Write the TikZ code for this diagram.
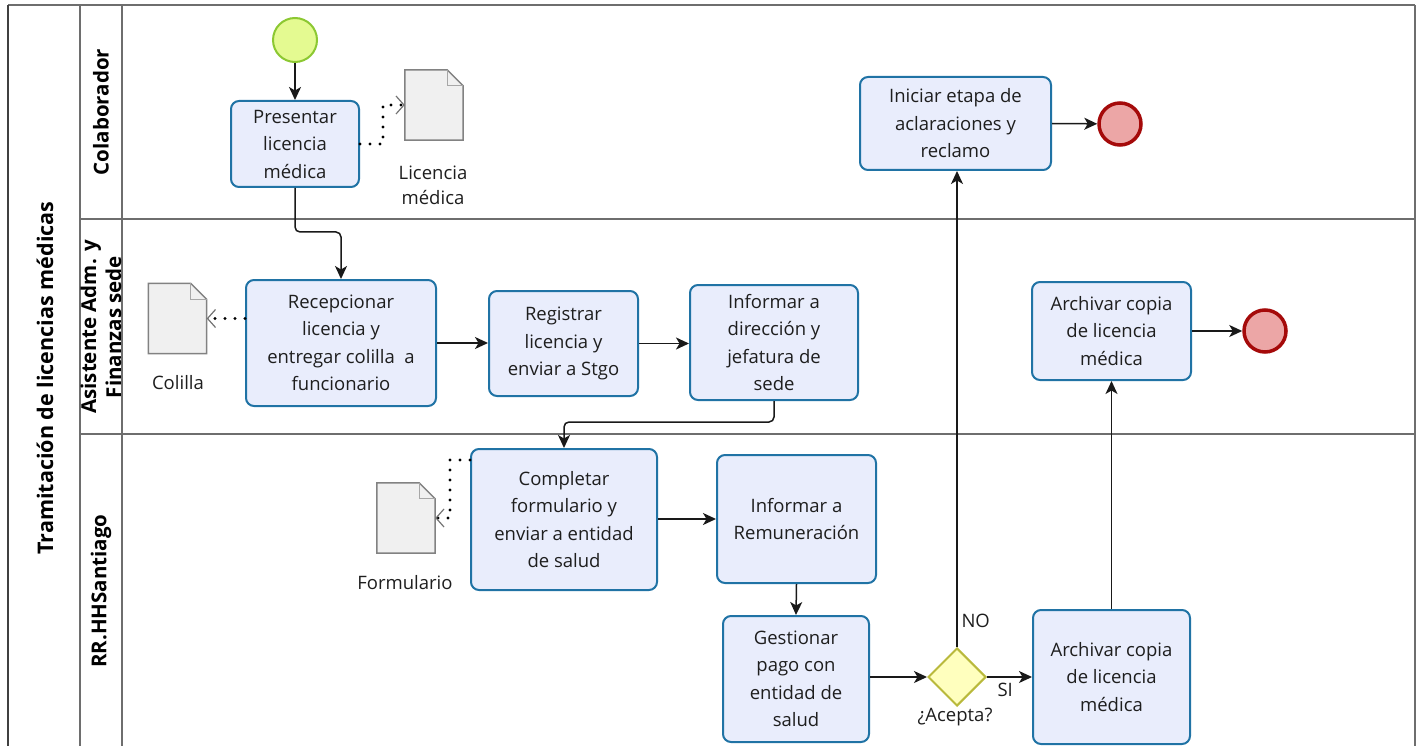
\documentclass[tikz,border=0pt]{standalone}
\usepackage{fontspec}
\setmainfont{Open Sans}
\usetikzlibrary{arrows.meta,shapes.geometric,calc}
\definecolor{taskfill}{RGB}{233,237,252}
\definecolor{taskline}{RGB}{32,115,165}
\definecolor{startfill}{RGB}{228,250,145}
\definecolor{startline}{RGB}{140,200,50}
\definecolor{endfill}{RGB}{236,166,166}
\definecolor{endline}{RGB}{165,10,10}
\definecolor{gwfill}{RGB}{255,255,190}
\definecolor{gwline}{RGB}{185,185,60}
\definecolor{docfill}{RGB}{240,240,240}
\definecolor{docline}{RGB}{130,130,130}
\definecolor{lanegray}{RGB}{110,110,110}
\definecolor{txt}{RGB}{30,30,30}
\begin{document}
\begin{tikzpicture}[x=1pt,y=-1pt,
  lanel/.style={draw=lanegray,line width=1.3pt},
  poolline/.style={draw=black!75,line width=2pt},
  pooltext/.style={font=\fontsize{21.5}{24}\selectfont\bfseries,text=black,rotate=90,align=center},
  lanetext/.style={font=\fontsize{20.5}{25}\selectfont\bfseries,text=black,rotate=90,align=center},
  task/.style={draw=taskline,fill=taskfill,line width=2pt,rounded corners=8pt,align=center,
    font=\fontsize{18.5}{27.5}\selectfont,text=txt,inner sep=2pt},
  startev/.style={circle,draw=startline,fill=startfill,line width=2pt,minimum size=44pt,inner sep=0pt},
  endev/.style={circle,draw=endline,fill=endfill,line width=3.5pt,minimum size=42pt,inner sep=0pt},
  gateway/.style={diamond,draw=gwline,fill=gwfill,line width=2pt,minimum width=58pt,minimum height=58pt,inner sep=0pt},
  docbox/.style={minimum width=58pt,minimum height=70pt,inner sep=0pt},
  docst/.style={draw=docline,fill=docfill,line width=1.5pt,line join=miter},
  lbl/.style={font=\fontsize{18.5}{25}\selectfont,text=txt,align=center},
  flow/.style={draw=black!90,line width=1.5pt,-{Stealth[length=13pt,width=12pt,inset=3.5pt]}},
  assoc/.style={draw=black,line width=3.2pt,line cap=round,dash pattern=on 0pt off 10pt,
    -{Straight Barb[length=8pt,width=18pt,line width=1.2pt,color=black!55]}}
]
\useasboundingbox (0,0) rectangle (1416,746);
% pool and lanes
\draw[lanel] (8,5) -- (1415,5);
\draw[lanel] (1415,5) -- (1415,746);
\draw[lanel] (80,5) -- (80,746);
\draw[lanel] (122,5) -- (122,746);
\draw[lanel] (80,219) -- (1415,219);
\draw[lanel] (80,434) -- (1415,434);
\draw[poolline] (8,5) -- (8,746);
\node[pooltext] (pool) at (45,378) {Tramitación de licencias médicas};
\node[lanetext] (lane1) at (101,112) {Colaborador};
\node[lanetext] (lane2) at (101,327) {Asistente Adm. y\\Finanzas sede};
\node[lanetext] (lane3) at (101,591) {RR.HHSantiago};

% events, gateway
\node[startev] (start) at (295,40) {};
\node[endev] (end1) at (1120,124) {};
\node[endev] (end2) at (1265,331) {};
\node[gateway] (gw) at (957,677) {};
\node[lbl,anchor=center] (gwl) at (955,717) {¿Acepta?};

% tasks
\node[task,minimum width=128pt,minimum height=86pt] (p1) at (295,144) {Presentar\\licencia\\médica};
\node[task,minimum width=190pt,minimum height=126pt] (p2) at (341,343) {Recepcionar\\licencia y\\entregar colilla\ \ a\\funcionario};
\node[task,minimum width=149pt,minimum height=105pt] (p3) at (563.5,343.5) {Registrar\\licencia y\\enviar a Stgo};
\node[task,minimum width=168pt,minimum height=115pt] (p4) at (774,342.5) {Informar a\\dirección y\\jefatura de\\sede};
\node[task,minimum width=186pt,minimum height=141pt] (p5) at (564,519.5) {Completar\\formulario y\\enviar a entidad\\de salud};
\node[task,minimum width=159pt,minimum height=128pt] (p6) at (796.5,519) {Informar a\\Remuneración};
\node[task,minimum width=146pt,minimum height=126pt] (p7) at (796,679) {Gestionar\\pago con\\entidad de\\salud};
\node[task,minimum width=157pt,minimum height=134pt] (p8) at (1111.5,677) {Archivar copia\\de licencia\\médica};
\node[task,minimum width=159pt,minimum height=98pt] (p9) at (1111.5,331) {Archivar copia\\de licencia\\médica};
\node[task,minimum width=191pt,minimum height=93pt] (p10) at (955.5,123.5) {Iniciar etapa de\\aclaraciones y\\reclamo};

% data objects
\foreach \d/\cx/\cy in {doc1/434/105, doc2/177.5/318.5, doc3/406/518}{
  \node[docbox] (\d) at (\cx,\cy) {};
  \draw[docst] (\d.north west) -- ([xshift=-16pt]\d.north east) -- ([yshift=-16pt]\d.north east)
     -- (\d.south east) -- (\d.south west) -- cycle;
  \draw[draw=docline!70,line width=1pt] ([xshift=-16pt]\d.north east) |- ([yshift=-16pt]\d.north east);
}
\node[lbl] (doc1l) at (433,185) {Licencia\\médica};
\node[lbl] (doc2l) at (178,383) {Colilla};
\node[lbl] (doc3l) at (405,583) {Formulario};

% sequence flows
\draw[flow] (start) -- (p1);
\coordinate (c1) at (318,232);
\draw[flow,rounded corners=5pt] (p1.south) |- (c1) -| (p2.north);
\draw[flow] (p2.east) -- (p3.west |- p2.east);
\draw[flow] (p3.east) -- (p4.west |- p3.east);
\coordinate (c2) at (670,422);
\draw[flow,rounded corners=5pt] (p4.south) |- (c2) -| (p5.north);
\draw[flow] (p5.east |- p6.west) -- (p6.west);
\draw[flow] (p6.south) -- (p7.north);
\draw[flow] (p7.east |- gw.west) -- (gw.west);
\draw[flow] (gw.north) -- (gw.north |- p10.south);
\draw[flow] (gw.east) -- (p8.west);
\draw[flow] (p8.north) -- (p9.south);
\draw[flow] (p9.east) -- (end2);
\draw[flow] (p10.east) -- (end1);
\node[lbl,anchor=west] (nol) at (958,621) {NO};
\node[lbl,anchor=west] (sil) at (994,690) {SI};

% associations
\coordinate (a1) at (383,124);
\draw[assoc] (p1.east) -| (a1) |- (doc1.west);
\draw[assoc] (p2.west |- doc2.east) -- (doc2.east);
\coordinate (a3) at (450,490);
\draw[assoc] ([yshift=-12pt]p5.north west) -| (a3) |- (doc3.east);
\end{tikzpicture}
\end{document}
